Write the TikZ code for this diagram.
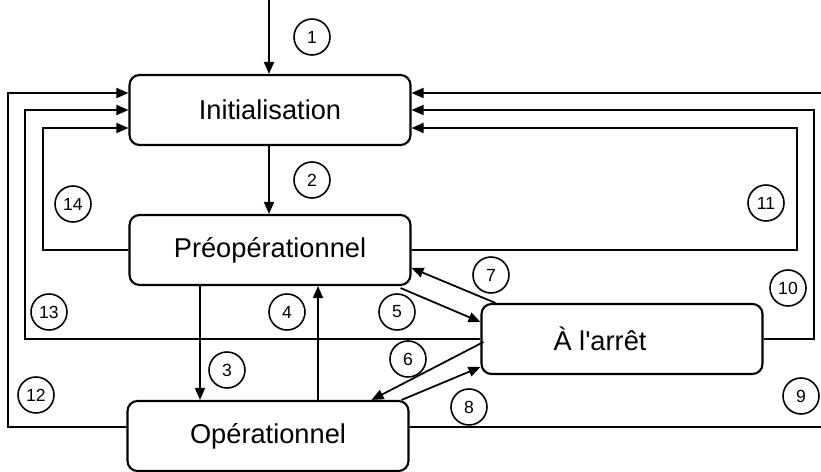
\documentclass[tikz,border=0pt]{standalone}
\usepackage{fontspec}
\setmainfont{Liberation Sans}
\usetikzlibrary{arrows.meta,positioning}
\tikzstyle{state} = [rectangle, rounded corners=0.2cm, minimum width=5.62cm, minimum height=1.4cm, text centered, draw, line width=1.2pt, font=\fontsize{15.5}{18}\selectfont]
\tikzstyle{num} = [circle, draw, line width=0.9pt, minimum size=0.72cm, inner sep=0pt, font=\fontsize{10}{11}\selectfont]
\tikzstyle{arrow} = [line width=1pt, -{Triangle[length=2.4mm,width=2mm]}]

\begin{document}
\begin{tikzpicture}[x=0.02cm, y=-0.02cm, node distance=2.8cm]
\useasboundingbox (0,0) rectangle (821,472);

% States
\node (init) [state] at (270,110) {Initialisation};
\node (preop) [state, below of=init] {Préopérationnel};
\node (op) [state] at (268,436) {Opérationnel};
\node (stop) [state] at (622,339) {À l\textquotesingle arrêt\hspace*{0.88cm}};

% Power on and main transitions
\coordinate (power) at (269,0);
\draw[arrow] (power) -- (power |- init.north);
\draw[arrow] ([xshift=-0.02cm]init.south) -- ([xshift=-0.02cm]preop.north);
\draw[arrow] ([xshift=-1.4cm]preop.south) -- ([xshift=-1.4cm]preop.south |- op.north);
\draw[arrow] ([xshift=1cm]op.north) -- ([xshift=1cm]op.north |- preop.south);
\draw[arrow] ([xshift=-0.22cm,yshift=-0.04cm]preop.south east) -- ([yshift=0.34cm]stop.west);
\draw[arrow] ([xshift=0.3cm]stop.north west) -- ([yshift=-0.36cm]preop.east);
\draw[arrow] ([xshift=0.06cm,yshift=-0.06cm]stop.west) -- ([xshift=-0.76cm]op.north east);
\draw[arrow] ([xshift=-0.16cm]op.north east) -- ([yshift=-0.56cm]stop.west);

% Loops back on the left
\draw[arrow] ([yshift=0.18cm]op.west) -| (8,93) -- ([yshift=0.34cm]init.west);
\draw[arrow] (stop.west) -| (25,110) -- (init.west);
\draw[arrow] (preop.west) -| (43,128) -- ([yshift=-0.36cm]init.west);

% Loops back on the right
\draw[arrow] ([yshift=0.18cm]op.east) -| (824,93) -- ([yshift=0.34cm]init.east);
\draw[arrow] (stop.east) -| (814,110) -- (init.east);
\draw[arrow] (preop.east) -| (797,128) -- ([yshift=-0.36cm]init.east);

% Transition numbers
\node (n1) [num] at (312,37) {1};
\node (n2) [num] at (312,180) {2};
\node (n3) [num] at (227,370) {3};
\node (n4) [num] at (287,312) {4};
\node (n5) [num] at (397,312) {5};
\node (n6) [num] at (408,359) {6};
\node (n7) [num] at (491,275) {7};
\node (n8) [num] at (469,407) {8};
\node (n9) [num] at (801,396) {9};
\node (n10) [num] at (788,288) {10};
\node (n11) [num] at (766,203) {11};
\node (n12) [num] at (36,395) {12};
\node (n13) [num] at (49,312) {13};
\node (n14) [num] at (73,204) {14};
\end{tikzpicture}
\end{document}
